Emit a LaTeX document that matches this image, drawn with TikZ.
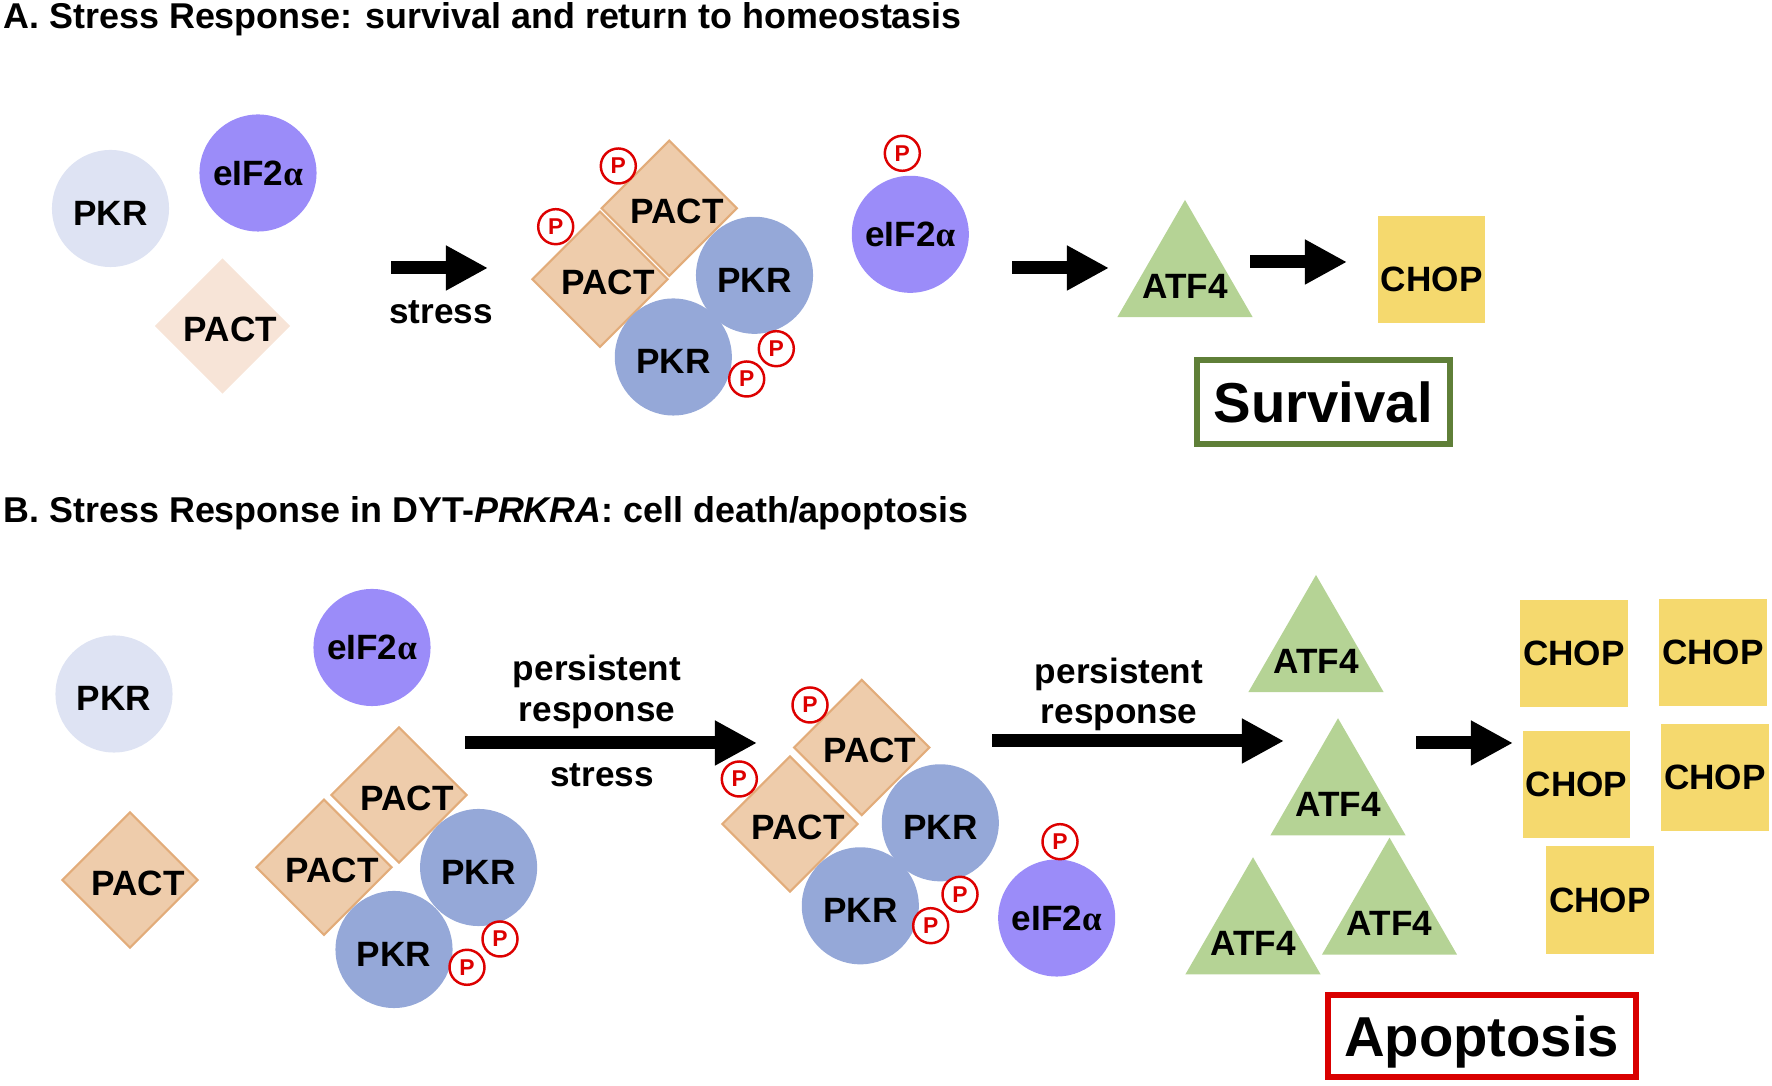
\documentclass[tikz,border=0pt]{standalone}
\usepackage{fontspec}
\setmainfont{Liberation Sans}
\newfontfamily\greekfont{Liberation Serif}
\usepackage{tikz}
\usetikzlibrary{shapes.geometric,arrows.meta}

% colours of the proteins
\definecolor{colPKRi}{RGB}{222,227,243}
\definecolor{colPKR}{RGB}{149,168,216}
\definecolor{colEIF}{RGB}{155,140,249}
\definecolor{colPACTi}{RGB}{247,228,215}
\definecolor{colPACT}{RGB}{238,204,171}
\definecolor{colPACTline}{RGB}{226,172,122}
\definecolor{colATF}{RGB}{181,211,149}
\definecolor{colCHOP}{RGB}{245,217,110}
% colours of the outcome boxes and phosphates
\definecolor{colSurv}{RGB}{95,127,56}
\definecolor{colApop}{RGB}{217,0,0}
\definecolor{colP}{RGB}{221,0,0}

\newcommand{\eif}{eIF2{\greekfont\bfseries α}}

\tikzset{
  lbl/.style={font=\bfseries\fontsize{10}{12}\selectfont, inner sep=0pt},
  heading/.style={font=\bfseries\fontsize{10.2}{12}\selectfont, inner sep=0pt, anchor=base west},
  protein/.style={circle, minimum size=1.17cm, lbl},
  pkri/.style={protein, fill=colPKRi, text height=9.6pt},
  pkr/.style={protein, fill=colPKR, text height=9.6pt},
  eif/.style={protein, fill=colEIF},
  pact/.style={diamond, aspect=1, minimum size=1.36cm, inner sep=0pt, fill=colPACT,
    draw=colPACTline, line width=0.6pt,
    label={[lbl, xshift=0.8mm, yshift=-0.3mm]center:PACT}},
  pacti/.style={pact, fill=colPACTi, draw=none},
  atf/.style={regular polygon, regular polygon sides=3, minimum size=1.56cm,
    inner sep=0pt, fill=colATF, label={[lbl, yshift=-0.8mm]center:ATF4}},
  chop/.style={rectangle, minimum size=1.07cm, lbl, fill=colCHOP},
  phos/.style={circle, minimum size=0.35cm, inner sep=0pt, draw=colP, fill=white,
    line width=0.7pt, text=colP, font=\bfseries\fontsize{6.5}{7}\selectfont},
  fatarrow/.style={line width=1.3mm, -{Triangle[length=4.2mm,width=4.2mm]}},
  outcome/.style={rectangle, inner sep=0pt, line width=1.7pt, text depth=0pt,
    font=\bfseries\fontsize{16}{19}\selectfont}
}

\begin{document}
\begin{tikzpicture}[x=0.01cm, y=-0.01cm]
  \useasboundingbox (0,0) rectangle (1772,1086);

  % panel titles
  \node[heading] (titA) at (3,28.5) {A. Stress Response: survival and return to homeostasis};
  \node[heading] (titB) at (3,523) {B. Stress Response in DYT-\textit{PRKRA}: cell death/apoptosis};

  %%% panel A
  % inactive proteins
  \node[pkri] (pkrA0) at (110.5,208.5) {PKR};
  \node[eif] (eifA0) at (258,173) {\eif};
  \node[pacti] (pactA0) at (222.5,326) {};

  % stress arrow
  \coordinate (sA1) at (391,268);
  \coordinate (eA1) at (488,268);
  \draw[fatarrow] (sA1) -- (eA1);
  \node[lbl, anchor=base] (strA) at (441,324) {stress};

  % activated complex
  \node[pact] (pactA1) at (669.3,208.3) {};
  \node[pact] (pactA2) at (600,279.3) {};
  \node[pkr] (pkrA1) at (754.5,275.3) {PKR};
  \node[pkr] (pkrA2) at (673.3,357) {PKR};
  \node[phos] (pA1) at (618.3,166) {P};
  \node[phos] (pA2) at (555.7,226.7) {P};
  \node[phos] (pA3) at (776.3,348.7) {P};
  \node[phos] (pA4) at (746.7,379) {P};
  \node[eif] (eifA1) at (910.3,234.3) {\eif};
  \node[phos] (pA5) at (902.3,153.3) {P};

  % downstream
  \coordinate (sA2) at (1012,268);
  \coordinate (eA2) at (1109,268);
  \draw[fatarrow] (sA2) -- (eA2);
  \node[atf] (atfA) at (1185,278) {};
  \coordinate (sA3) at (1250,262);
  \coordinate (eA3) at (1347,262);
  \draw[fatarrow] (sA3) -- (eA3);
  \node[chop, text height=13pt] (chopA) at (1431.7,269.3) {CHOP};
  \node[outcome, draw=colSurv, minimum width=2.53cm, minimum height=0.84cm]
    (surv) at (1323.3,401.7) {Survival};

  %%% panel B
  % inactive proteins
  \node[pkri] (pkrB0) at (114,694) {PKR};
  \node[pact] (pactB0) at (130,880) {};
  \node[eif] (eifB0) at (372,647.5) {\eif};

  % complex before stress
  \node[pact] (pactB1) at (399,795) {};
  \node[pact] (pactB2) at (324,867.3) {};
  \node[pkr] (pkrB1) at (478.6,867.5) {PKR};
  \node[pkr] (pkrB2) at (394,949.5) {PKR};
  \node[phos] (pB1) at (500,939) {P};
  \node[phos] (pB2) at (467,967.3) {P};

  % persistent response arrow
  \coordinate (sB1) at (465,743);
  \coordinate (eB1) at (757,743);
  \draw[fatarrow] (sB1) -- (eB1);
  \node[lbl, anchor=base] (perB1) at (597,681) {persistent};
  \node[lbl, anchor=base] (resB1) at (597,722) {response};
  \node[lbl, anchor=base] (strB) at (602,787) {stress};

  % activated complex
  \node[pact] (pactB3) at (861.7,747.5) {};
  \node[pact] (pactB4) at (790,824) {};
  \node[pkr] (pkrB3) at (940.3,822.8) {PKR};
  \node[pkr] (pkrB4) at (860.3,905.8) {PKR};
  \node[phos] (pB3) at (810,705) {P};
  \node[phos] (pB4) at (739.3,779) {P};
  \node[phos] (pB5) at (960,894.3) {P};
  \node[phos] (pB6) at (930.7,925.7) {P};
  \node[eif] (eifB1) at (1056.7,918) {\eif};
  \node[phos] (pB7) at (1060,841.7) {P};

  % second persistent response arrow
  \coordinate (sB2) at (992,741);
  \coordinate (eB2) at (1284,741);
  \draw[fatarrow] (sB2) -- (eB2);
  \node[lbl, anchor=base] (perB2) at (1119,684) {persistent};
  \node[lbl, anchor=base] (resB2) at (1119,724) {response};

  % ATF4 accumulates
  \node[atf] (atfB1) at (1316,653) {};
  \node[atf] (atfB2) at (1338,796.3) {};
  \node[atf] (atfB3) at (1253,935.3) {};
  \node[atf] (atfB4) at (1389.5,915.7) {};

  % CHOP accumulates
  \coordinate (sB3) at (1416,743);
  \coordinate (eB3) at (1513,743);
  \draw[fatarrow] (sB3) -- (eB3);
  \node[chop] (chopB1) at (1574,653.7) {CHOP};
  \node[chop] (chopB2) at (1713,652.7) {CHOP};
  \node[chop] (chopB3) at (1576.4,784.7) {CHOP};
  \node[chop] (chopB4) at (1715,777.3) {CHOP};
  \node[chop] (chopB5) at (1600,900) {CHOP};
  \node[outcome, draw=colApop, minimum width=3.08cm, minimum height=0.823cm]
    (apop) at (1481.6,1035.8) {Apoptosis};

\end{tikzpicture}
\end{document}
